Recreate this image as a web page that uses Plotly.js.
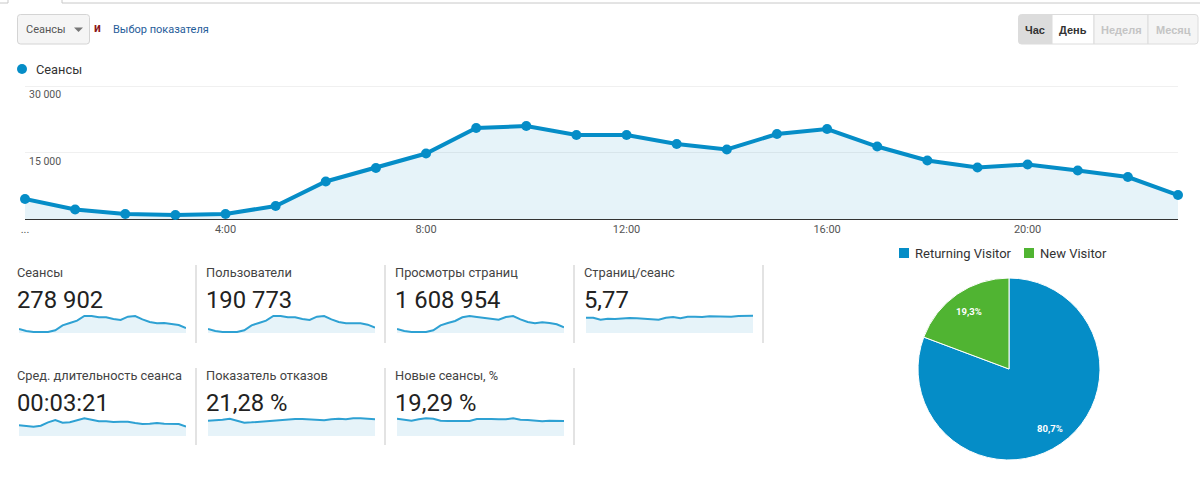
<!DOCTYPE html>
<html><head><meta charset="utf-8">
<script src="https://cdn.plot.ly/plotly-3.0.1.min.js"></script>
<style>html,body{margin:0;padding:0;background:#fff;overflow:hidden}#c{width:1200px;height:481px}</style>
</head><body><div id="c"></div>
<script>
const hours = [0,1,2,3,4,5,6,7,8,9,10,11,12,13,14,15,16,17,18,19,20,21,22,23];
const sessions = [4500,2150,1130,900,1130,2930,8460,11500,14770,20530,20980,18950,18950,16900,15680,19170,20300,16350,13200,11620,12300,10940,9470,5410];
const xTickVals = [0,4,8,12,16,20];
const xTickText = ['...','4:00','8:00','12:00','16:00','20:00'];
const yTickVals = [15000,30000];
const yTickText = ['15 000','30 000'];
const metricLabels = ['Сеансы','Пользователи','Просмотры страниц','Страниц/сеанс','Сред. длительность сеанса','Показатель отказов','Новые сеансы, %'];
const metricValues = ['278 902','190 773','1 608 954','5,77','00:03:21','21,28 %','19,29 %'];
const sparkSessions = [12,6,3,2,3,8,23,30,37,51,51,47,47,42,39,49,51,41,33,29,30,27,24,15];
const sparkUsers = [12,6,3,2,3,8,23,30,37,51,51,47,47,42,39,49,51,41,33,29,30,29,25,16];
const sparkViews = [12,6,3,2,3,8,23,30,36,47,51,48,45,43,40,48,51,41,33,29,32,30,26,17];
const sparkPages = [46,46,40,43,42,44,45,44,42,41,40,46,48,44,49,49,48,50,49,48,49,51,51,52];
const sparkDuration = [32,31,28,31,41,48,40,41,47,53,49,44,44,42,43,43,39,36,37,39,37,36,36,28];
const sparkBounce = [46,47,49,52,47,40,41,43,44,45,48,50,51,51,50,48,47,50,52,50,53,53,51,50];
const sparkNew = [52,48,46,50,53,52,46,45,45,45,45,51,52,51,50,50,53,49,48,45,44,46,46,45];
const sparks = [sparkSessions,sparkUsers,sparkViews,sparkPages,sparkDuration,sparkBounce,sparkNew];
const pieLabels = ['Returning Visitor','New Visitor'];
const pieValues = [80.7,19.3];
const pieColors = ['#058dc7','#50b432'];
const buttonLabels = ['Час','День','Неделя','Месяц'];

const W=1200,H=481, fx=x=>x/W, fy=y=>1-y/H;
const BLUE='#058dc7', FILL='rgba(5,141,199,0.1)', FONT='Roboto, sans-serif';
const traces=[{type:'scatter',mode:'lines+markers',x:hours,y:sessions,name:'Сеансы',showlegend:false,
  line:{color:BLUE,width:4},marker:{color:BLUE,size:10},fill:'tozeroy',fillcolor:FILL,cliponaxis:false,hoverinfo:'x+y'}];
const layout={width:W,height:H,margin:{l:0,r:0,t:0,b:0},paper_bgcolor:'#fff',plot_bgcolor:'rgba(0,0,0,0)',
  separators:', ',font:{family:FONT,color:'#333'},hovermode:false,showlegend:false,
  xaxis:{domain:[fx(25),fx(1178)],range:[0,23],tickvals:xTickVals,ticktext:xTickText,ticks:'',showgrid:false,zeroline:false,
    showline:false,tickfont:{size:11,color:'#555',family:FONT},anchor:'y',ticklabelstandoff:2},
  yaxis:{domain:[fy(219),fy(86)],range:[0,30000],tickvals:yTickVals,showticklabels:false,gridcolor:'#f0f0f0',gridwidth:1,
    zeroline:true,zerolinecolor:'#333',zerolinewidth:1,anchor:'x'},
  annotations:[],shapes:[]};

function ann(text,x,y,size,color,opt){layout.annotations.push(Object.assign({text,x:fx(x),y:fy(y),xref:'paper',yref:'paper',
  xanchor:'left',yanchor:'middle',showarrow:false,borderpad:0,font:{size,color,family:FONT}},opt||{}));}
function rrect(x0,y0,x1,y1,fill,line,rl,rr){
  const X=fx,Y=fy;
  const p=`M ${X(x0+rl)} ${Y(y0)} L ${X(x1-rr)} ${Y(y0)} Q ${X(x1)} ${Y(y0)} ${X(x1)} ${Y(y0+rr)} L ${X(x1)} ${Y(y1-rr)} Q ${X(x1)} ${Y(y1)} ${X(x1-rr)} ${Y(y1)} L ${X(x0+rl)} ${Y(y1)} Q ${X(x0)} ${Y(y1)} ${X(x0)} ${Y(y1-rl)} L ${X(x0)} ${Y(y0+rl)} Q ${X(x0)} ${Y(y0)} ${X(x0+rl)} ${Y(y0)} Z`;
  layout.shapes.push({type:'path',xref:'paper',yref:'paper',path:p,fillcolor:fill,line:{color:line,width:1},layer:'below'});}
function vline(x,y0,y1,c,w){layout.shapes.push({type:'line',xref:'paper',yref:'paper',x0:fx(x),x1:fx(x),y0:fy(y0),y1:fy(y1),line:{color:c,width:w||1},layer:'below'});}
function hline(x0,x1,y,c){layout.shapes.push({type:'line',xref:'paper',yref:'paper',x0:fx(x0),x1:fx(x1),y0:fy(y),y1:fy(y),line:{color:c,width:1},layer:'below'});}

// top gridline at the axis maximum
hline(25,1178,86.5,'#f0f0f0');
// y-axis labels sit just under their gridlines
yTickVals.forEach((v,i)=>layout.annotations.push({text:yTickText[i],x:fx(28),y:v,xref:'paper',yref:'y',xanchor:'left',yanchor:'top',
  yshift:-1,showarrow:false,borderpad:0,font:{size:10.5,color:'#555',family:FONT}}));

// metric tiles
const col=[17,206,395,584], rows=[{l:272,v:300,base:333,sep0:265,sep1:343},{l:375,v:403,base:436,sep0:368,sep1:445}];
const cells=[[0,0],[1,0],[2,0],[3,0],[0,1],[1,1],[2,1]];
cells.forEach(([c,r],i)=>{
  const R=rows[r],x0=col[c];
  ann(metricLabels[i],x0-1,R.l,12.8,'#444');
  ann(metricValues[i],x0-1,R.v,23.8,'#222');
  const n=i+2;
  layout['xaxis'+n]={domain:[fx(x0+2),fx(x0+169)],range:[0,23],visible:false,anchor:'y'+n,fixedrange:true};
  layout['yaxis'+n]={domain:[fy(R.base),fy(R.base-20)],range:[0,60],visible:false,anchor:'x'+n,fixedrange:true};
  traces.push({type:'scatter',mode:'lines',x:hours,y:sparks[i],xaxis:'x'+n,yaxis:'y'+n,showlegend:false,
    line:{color:'#2ea1d3',width:2},fill:'tozeroy',fillcolor:FILL,hoverinfo:'skip'});
  vline(x0+179,R.sep0,R.sep1,'#d0d0d0',1.2);
});

// pie
traces.push({type:'pie',labels:pieLabels,values:pieValues,sort:false,direction:'clockwise',rotation:0,
  marker:{colors:pieColors,line:{color:'#fff',width:1}},domain:{x:[fx(918),fx(1100)],y:[fy(460),fy(278)]},
  textinfo:'none',showlegend:false,hoverinfo:'skip'});
const pieTextPos=[[1050,428],[969,311]];
pieValues.forEach((v,i)=>ann(v.toFixed(1).replace('.',',')+'%',pieTextPos[i][0],pieTextPos[i][1],9.5,'#fff',
  {xanchor:'center',font:{size:9.5,color:'#fff',family:FONT,weight:'bold'}}));
// pie legend
const legX=[[899,914],[1024,1039]];
pieLabels.forEach((t,i)=>{
  layout.shapes.push({type:'rect',xref:'paper',yref:'paper',x0:fx(legX[i][0]),x1:fx(legX[i][0]+10),y0:fy(258),y1:fy(248),fillcolor:pieColors[i],line:{width:0}});
  ann(t,legX[i][1],253.5,13,'#333');
});

// top strip
hline(62,1200,3,'#c8c8c8'); hline(0,8,3,'#c8c8c8'); vline(8,0,3,'#c8c8c8'); vline(62,0,3,'#c8c8c8');
// selector
rrect(17.5,14.5,89.5,44,'#f5f5f5','#d4d4d4',3,3);
ann('Сеансы',25,29.5,11,'#555');
layout.shapes.push({type:'path',xref:'paper',yref:'paper',path:`M ${fx(74)} ${fy(27.5)} L ${fx(83)} ${fy(27.5)} L ${fx(78.5)} ${fy(32)} Z`,fillcolor:'#777',line:{width:0}});
ann('и',93,28.5,12,'#8b1a1a',{font:{size:12,color:'#8b1a1a',family:FONT,weight:'bold'}});
ann('Выбор показателя',112,29.5,11,'#1f5c99');
// main legend
layout.shapes.push({type:'circle',xref:'paper',yref:'paper',x0:fx(17),x1:fx(27),y0:fy(74),y1:fy(64),fillcolor:BLUE,line:{width:0}});
ann('Сеансы',35,69.5,12.8,'#333');
// buttons
const bx=[1018.5,1052,1094,1148,1198], bf=['#dcdcdc','#ffffff','#f5f5f5','#f5f5f5'], bc=['#333','#333','#c4c4c4','#c4c4c4'];
buttonLabels.forEach((t,i)=>{
  rrect(bx[i],14.5,bx[i+1],44,bf[i],'#dcdcdc',i===0?3:0,i===3?3:0);
  layout.annotations.push({text:'<b>'+t+'</b>',x:fx((bx[i]+bx[i+1])/2),y:fy(29.5),xref:'paper',yref:'paper',xanchor:'center',yanchor:'middle',
    showarrow:false,borderpad:0,font:{size:11,color:bc[i],family:'Liberation Sans, Arial, sans-serif'}});
});
Plotly.newPlot('c',traces,layout,{staticPlot:true,displayModeBar:false});
</script></body></html>
